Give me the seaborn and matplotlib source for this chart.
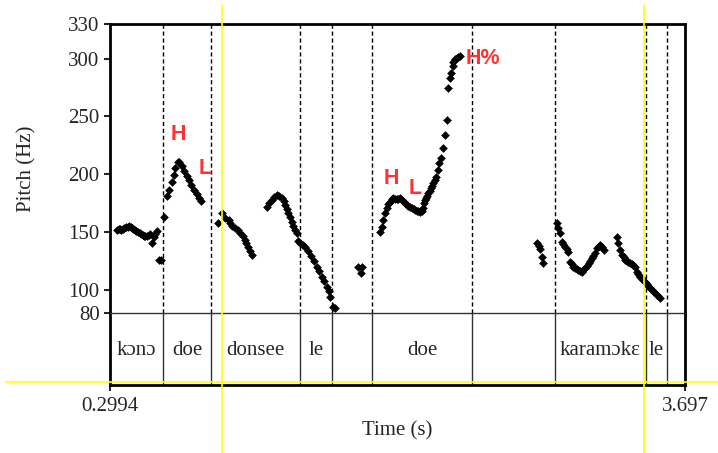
import matplotlib

matplotlib.use("Agg")
import matplotlib.pyplot as plt
import pandas as pd
import seaborn as sns
from matplotlib.lines import Line2D
from matplotlib.transforms import blended_transform_factory

# time window of the picture (s)
t_start, t_end = 0.2994, 3.697

# pitch track per stretch
kono_t = [0.341, 0.350, 0.359, 0.367, 0.376, 0.385, 0.394, 0.403, 0.412, 0.421,
          0.429, 0.438, 0.447, 0.456, 0.465, 0.474, 0.483, 0.492, 0.500, 0.509,
          0.518, 0.527, 0.536, 0.548, 0.560, 0.568, 0.577, 0.589, 0.598]
kono_hz = [151.8, 152.7, 152.7, 152.2, 152.7, 153.5, 154.4, 154.8, 155.3, 154.4,
           153.5, 152.7, 151.8, 150.9, 150.1, 149.2, 148.4, 147.5, 146.6, 146.6,
           146.6, 147.5, 148.4, 140.6, 145.8, 148.4, 151.0, 125.9, 125.4]

doe1_t = [0.619, 0.639, 0.651, 0.663, 0.675, 0.686, 0.701, 0.707, 0.722, 0.737,
          0.752, 0.766, 0.781, 0.796, 0.811, 0.826, 0.840]
doe1_hz = [162.8, 181.2, 186.4, 193.3, 199.4, 205.4, 210.6, 211.0, 206.8, 202.5,
           198.5, 195.0, 190.5, 186.5, 183.0, 179.5, 176.5]

donsee_t = [0.939, 0.960, 0.979, 1.000, 1.009, 1.023, 1.038, 1.053, 1.068, 1.083,
            1.097, 1.106, 1.117, 1.127, 1.137,
            1.225, 1.239, 1.255, 1.269, 1.285, 1.298, 1.314, 1.325, 1.334, 1.344,
            1.353, 1.363, 1.373, 1.383, 1.393, 1.403]
donsee_hz = [157.6, 166.3, 162.0, 160.0, 157.6, 155.5, 153.3, 151.5, 149.5, 146.5,
             143.2, 140.3, 137.4, 134.0, 130.2,
             172.0, 175.2, 177.8, 180.4, 182.1, 181.3, 179.2, 176.5, 173.4, 170.0,
             166.3, 162.6, 159.0, 155.3, 151.8, 148.9]

le1_t = [1.411, 1.422, 1.440, 1.452, 1.470, 1.488, 1.506, 1.521, 1.535, 1.551,
         1.564, 1.580, 1.591, 1.600, 1.618, 1.629]
le1_hz = [142.5, 140.6, 138.8, 137.0, 133.6, 129.3, 125.0, 120.1, 116.3, 111.4,
          107.7, 102.8, 99.0, 94.1, 85.2, 84.3]

gap1_t = [1.767, 1.787, 1.781]
gap1_hz = [120.1, 120.1, 114.3]

doe2_t = [1.895, 1.905, 1.915, 1.925, 1.935, 1.945, 1.954, 1.964, 1.974, 1.984,
          1.994, 2.004, 2.014, 2.024, 2.034, 2.043, 2.053, 2.063, 2.073, 2.083,
          2.093, 2.102, 2.112, 2.122, 2.132, 2.141, 2.148, 2.155, 2.161, 2.167,
          2.174, 2.181, 2.188, 2.195, 2.203, 2.210, 2.218, 2.226, 2.236, 2.244,
          2.254, 2.266, 2.279, 2.289, 2.299, 2.309, 2.317, 2.324, 2.328, 2.338,
          2.348, 2.358, 2.368]
doe2_hz = [150.3, 154.7, 160.5, 166.3, 170.6, 173.9, 176.3, 178.2, 179.2, 179.0,
           178.3, 179.0, 179.2, 177.8, 176.3, 174.7, 173.4, 172.6, 172.0, 170.8,
           170.0, 169.1, 168.5, 168.0, 167.6, 168.2, 170.6, 174.9, 177.3, 179.2,
           181.4, 183.6, 185.7, 187.9, 190.0, 192.2, 195.0, 197.9, 203.7, 209.5,
           213.8, 222.5, 234.0, 247.0, 274.4, 283.3, 287.6, 293.7, 297.4, 299.7,
           300.3, 301.5, 301.9]

gap2_t = [2.823, 2.832, 2.841, 2.851, 2.861]
gap2_hz = [140.6, 138.0, 135.4, 128.7, 123.0]

karamoke_t = [2.939, 2.949, 2.959, 2.969, 2.978, 2.988, 2.998, 3.008, 3.018, 3.028,
              3.038, 3.048, 3.057, 3.067, 3.077, 3.087, 3.097, 3.107, 3.116, 3.127,
              3.136, 3.146, 3.156, 3.166, 3.180, 3.188, 3.196, 3.206, 3.216,
              3.294, 3.304, 3.314, 3.324, 3.334, 3.343, 3.353, 3.363, 3.373, 3.383,
              3.392, 3.402, 3.412, 3.422, 3.432, 3.442, 3.451, 3.461]
karamoke_hz = [157.6, 153.3, 148.9, 141.7, 139.7, 137.3, 135.4, 133.0, 124.4, 122.4,
               120.1, 119.0, 118.1, 117.2, 116.3, 115.7, 117.2, 118.7, 120.7, 123.0,
               125.0, 127.3, 129.3, 131.7, 136.0, 138.0, 138.8, 136.7, 134.5,
               146.0, 140.3, 134.5, 130.2, 128.0, 125.9, 125.1, 124.0, 123.0, 122.0,
               121.1, 120.1, 115.7, 113.8, 111.4, 109.9, 108.6, 107.1]

le2_t = [3.471, 3.481, 3.491, 3.501, 3.511, 3.520, 3.530, 3.540, 3.550]
le2_hz = [105.1, 103.4, 101.4, 99.9, 98.6, 97.0, 95.6, 94.3, 92.7]

# text grid tier
boundaries = [0.2994, 0.6144, 0.896, 1.422, 1.610, 1.850, 2.439, 2.929, 3.466, 3.591, 3.697]
words = ["kɔnɔ", "doe", "donsee", "le", "", "doe", "", "karamɔkɛ", "le", ""]

# tone labels
tones = ["H", "L", "H", "L", "H%"]
tone_t = [0.703, 0.861, 1.964, 2.102, 2.505]
tone_hz = [234.6, 205.2, 196.5, 187.9, 300.3]

pitch_ticks = [80, 100, 150, 200, 250, 300, 330]
cursor_t = [0.963, 3.453]

track = pd.DataFrame({
    "time": kono_t + doe1_t + donsee_t + le1_t + gap1_t + doe2_t + gap2_t + karamoke_t + le2_t,
    "pitch": kono_hz + doe1_hz + donsee_hz + le1_hz + gap1_hz + doe2_hz + gap2_hz + karamoke_hz + le2_hz,
})

sns.set_style("white")
plt.rcParams["font.family"] = ["Liberation Serif", "DejaVu Serif"]
plt.rcParams["axes.edgecolor"] = "black"

fig = plt.figure(figsize=(7.18, 4.53), dpi=100)
ax = fig.add_axes([0.1532, 0.3091, 0.8008, 0.6380])
tier = fig.add_axes([0.1532, 0.1512, 0.8008, 0.1579])

# pitch panel
ax.vlines(boundaries[1:-1], 80, 330, colors="black", linestyles=(0, (3, 2)), linewidth=1)
sns.scatterplot(data=track, x="time", y="pitch", marker="D", color="black",
                s=16, linewidth=0.4, edgecolor="black", ax=ax, legend=False)
for lab, t, hz in zip(tones, tone_t, tone_hz):
    ax.text(t, hz, lab, color="#ff3333", fontsize=15.5, fontweight="bold",
            family="Liberation Sans", ha="center", va="center")

ax.set_xlim(t_start, t_end)
ax.set_ylim(80, 330)
ax.set_xticks([])
ax.set_xlabel("")
ax.set_yticks(pitch_ticks)
ax.tick_params(axis="y", left=True, direction="out", length=4, width=1.5, pad=3.5, labelsize=15)
ax.set_ylabel("Pitch (Hz)", fontsize=15)
ax.yaxis.set_label_coords(-0.128, 0.5)
for side in ["left", "top", "right"]:
    ax.spines[side].set_linewidth(2)
ax.spines["bottom"].set_visible(False)

# tier panel
tier.vlines(boundaries[1:-1], 0, 1, colors="#333333", linewidth=1)
for left, right, w in zip(boundaries[:-1], boundaries[1:], words):
    tier.text((left + right) / 2, 0.48, w, ha="center", va="center", fontsize=15)
tier.set_xlim(t_start, t_end)
tier.set_ylim(0, 1)
tier.set_yticks([])
tier.set_xticks([t_start, t_end])
tier.set_xticklabels(["0.2994", "3.697"])
tier.tick_params(axis="x", bottom=True, direction="out", length=4, width=1.5, pad=5, labelsize=15)
tier.set_xlabel("Time (s)", fontsize=15)
tier.xaxis.set_label_coords(0.5, -0.52)
tier.spines["top"].set_linewidth(1)
tier.spines["top"].set_color("#333333")
for side in ["left", "bottom", "right"]:
    tier.spines[side].set_linewidth(2)

# yellow cursor lines
blend = blended_transform_factory(ax.transData, fig.transFigure)
for t in cursor_t:
    fig.add_artist(Line2D([t, t], [0, 0.989], transform=blend, color="#ffff00", lw=1.2))
fig.add_artist(Line2D([0.0084, 1], [0.1561, 0.1561], transform=fig.transFigure,
                      color="#ffff00", lw=1.2))

fig.savefig("out.png", dpi=100)
